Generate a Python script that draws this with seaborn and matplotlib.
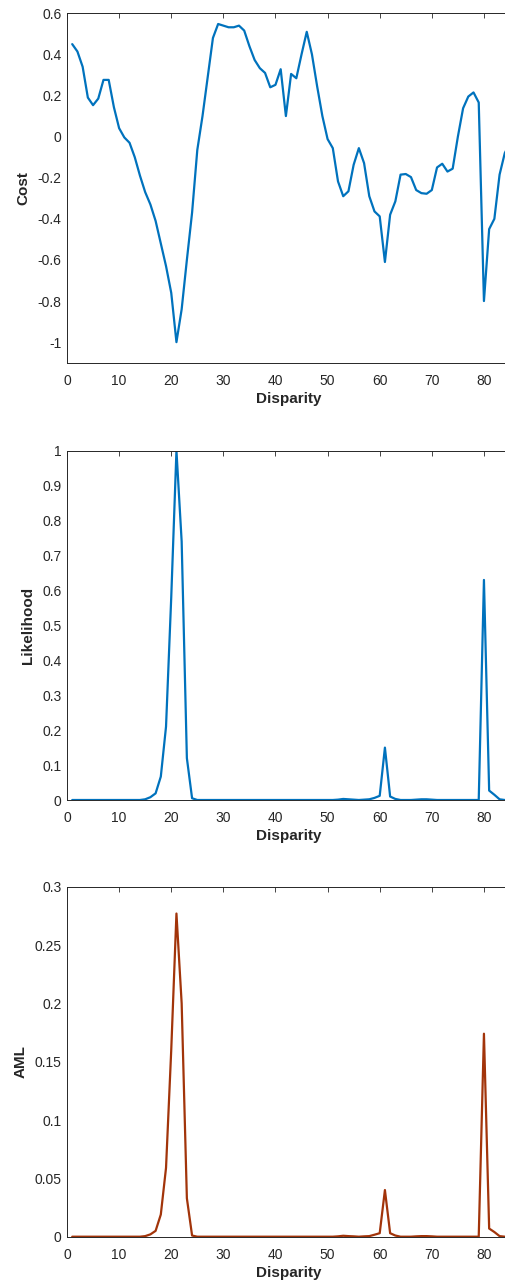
import numpy as np
import matplotlib
matplotlib.use('Agg')
import matplotlib.pyplot as plt
from matplotlib.ticker import FuncFormatter
import seaborn as sns

# disparity 1..85
disparity = list(range(1, 86))

cost = [0.45, 0.414, 0.34, 0.19, 0.153, 0.185, 0.276, 0.276, 0.143, 0.041,
        -0.004, -0.03, -0.10, -0.19, -0.27, -0.33, -0.41, -0.52, -0.63, -0.76,
        -1.0, -0.84, -0.60, -0.37, -0.065, 0.10, 0.29, 0.48, 0.548, 0.54,
        0.532, 0.532, 0.54, 0.516, 0.44, 0.373, 0.333, 0.31, 0.24, 0.252,
        0.328, 0.10, 0.305, 0.284, 0.40, 0.51, 0.40, 0.244, 0.10, -0.012,
        -0.056, -0.218, -0.29, -0.266, -0.137, -0.056, -0.129, -0.29, -0.364, -0.388,
        -0.61, -0.38, -0.315, -0.185, -0.182, -0.197, -0.26, -0.275, -0.278, -0.26,
        -0.15, -0.132, -0.17, -0.156, 0.0, 0.138, 0.195, 0.215, 0.166, -0.80,
        -0.45, -0.40, -0.185, -0.08, -0.03]

likelihood = [0, 0, 0, 0, 0, 0, 0, 0, 0, 0,
              0, 0, 0, 0, 0.002, 0.008, 0.019, 0.067, 0.21, 0.58,
              1.0, 0.74, 0.12, 0.005, 0, 0, 0, 0, 0, 0,
              0, 0, 0, 0, 0, 0, 0, 0, 0, 0,
              0, 0, 0, 0, 0, 0, 0, 0, 0, 0,
              0, 0.001, 0.003, 0.002, 0.001, 0, 0.001, 0.002, 0.006, 0.012,
              0.15, 0.01, 0.003, 0, 0, 0, 0.001, 0.002, 0.002, 0.001,
              0, 0, 0, 0, 0, 0, 0, 0, 0, 0.63,
              0.027, 0.015, 0.002, 0, 0]

aml = [0, 0, 0, 0, 0, 0, 0, 0, 0, 0,
       0, 0, 0, 0, 0.0005, 0.002, 0.005, 0.019, 0.059, 0.16,
       0.277, 0.20, 0.033, 0.001, 0, 0, 0, 0, 0, 0,
       0, 0, 0, 0, 0, 0, 0, 0, 0, 0,
       0, 0, 0, 0, 0, 0, 0, 0, 0, 0,
       0, 0.0003, 0.0008, 0.0005, 0.0003, 0, 0.0003, 0.0005, 0.0017, 0.003,
       0.040, 0.003, 0.001, 0, 0, 0, 0.0003, 0.0005, 0.0005, 0.0003,
       0, 0, 0, 0, 0, 0, 0, 0, 0, 0.174,
       0.007, 0.004, 0.0005, 0, 0]

sns.set_style('white')
plt.rcParams['font.family'] = ['Liberation Sans', 'DejaVu Sans']
plt.rcParams['axes.unicode_minus'] = False

dark = '#262626'
fig = plt.figure(figsize=(5.05, 12.84), dpi=100)

left = 67 / 505
width = 443 / 505
panels = [
    (cost, 'Cost', (-1.1, 0.6), np.arange(-1.0, 0.61, 0.2), '#0072BD', 362.7, 349.4),
    (likelihood, 'Likelihood', (0, 1), np.arange(0, 1.01, 0.1), '#0072BD', 800.0, 349.3),
    (aml, 'AML', (0, 0.3), np.arange(0, 0.301, 0.05), '#A2340A', 1236.7, 350.0),
]

fmt = FuncFormatter(lambda v, p: '%g' % (round(v, 4) + 0.0))

for vals, ylabel, ylim, yticks, color, bottom_px, height_px in panels:
    ax = fig.add_axes([left, 1 - bottom_px / 1284, width, height_px / 1284])
    sns.lineplot(x=disparity, y=vals, ax=ax, color=color, linewidth=1.6)
    ax.set_xlim(0, 85)
    ax.set_ylim(*ylim)
    ax.set_xticks(range(0, 81, 10))
    ax.set_yticks(yticks)
    ax.yaxis.set_major_formatter(fmt)
    ax.tick_params(direction='in', length=3.5, width=0.6, colors=dark,
                   labelsize=10, top=True, right=True)
    ax.tick_params(axis='x', pad=8)
    ax.tick_params(axis='y', pad=4)
    for s in ax.spines.values():
        s.set_color(dark)
        s.set_linewidth(0.7)
    ax.set_xlabel('Disparity', fontsize=11, fontweight='bold', color=dark, labelpad=3)
    ax.set_ylabel(ylabel, fontsize=11, fontweight='bold', color=dark, labelpad=5)

fig.savefig('out.png', dpi=100)
